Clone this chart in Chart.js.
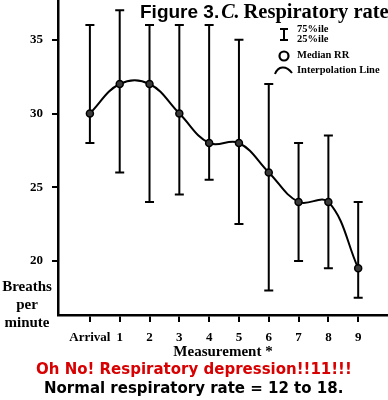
<!DOCTYPE html>
<html>
<head>
<meta charset="utf-8">
<script src="https://cdn.jsdelivr.net/npm/chart.js@4.4.1/dist/chart.umd.min.js"></script>
<style>
    body { margin: 0; background: #fff; }
    #wrap { position: relative; width: 388px; height: 400px; overflow: hidden; }
    #chart { position: absolute; left: 0; top: 0; }
    .txt { position: absolute; white-space: nowrap; color: #000; }
    .serif { font-family: "Liberation Serif", "Times New Roman", serif; font-weight: bold; }
    .sans { font-family: "DejaVu Sans", Verdana, sans-serif; font-weight: bold; }
</style>
</head>
<body>
<div id="wrap">
    <canvas id="chart" width="388" height="400"></canvas>

    <div class="txt" style="left:140px; top:0px; line-height:22px;">
        <span style="font-family:'Liberation Sans', Arial, sans-serif; font-weight:bold; font-size:19px;">Figure 3.</span><span class="serif" style="font-style:italic; font-size:20px; margin-left:2px;">C.</span><span class="serif" style="font-size:20.5px; margin-left:4px;">Respiratory rate</span>
    </div>

    <div class="txt serif" style="left:297px; top:24px; font-size:10.5px; line-height:10.5px;">75%ile</div>
    <div class="txt serif" style="left:297px; top:34px; font-size:10.5px; line-height:10.5px;">25%ile</div>
    <div class="txt serif" style="left:297px; top:50px; font-size:10.5px; line-height:10.5px;">Median RR</div>
    <div class="txt serif" style="left:297px; top:65px; font-size:10.5px; line-height:10.5px;">Interpolation Line</div>

    <div class="txt serif" style="left:-2px; top:277px; width:58px; text-align:center; font-size:15px; line-height:18px;">Breaths<br>per<br>minute</div>

    <div class="txt sans" style="left:36px; top:362px; font-size:15px; line-height:15px; color:#d80000;">Oh No! Respiratory depression!!11!!!</div>
    <div class="txt sans" style="left:44px; top:381px; font-size:15px; line-height:15px;">Normal respiratory rate = 12 to 18.</div>
</div>

<script>
// ===== DATA =====
var labels = ['Arrival', '1', '2', '3', '4', '5', '6', '7', '8', '9'];
var medianRR = [30, 32, 32, 30, 28, 28, 26, 24, 24, 19.5];
var upper75 = [36, 37, 36, 36, 36, 35, 32, 28, 28.5, 24];
var lower25 = [28, 26, 24, 24.5, 25.5, 22.5, 18, 20, 19.5, 17.5];
var yTicks = [20, 25, 30, 35];

// ===== ERROR BARS + LEGEND SYMBOLS =====
var errorBars = {
    id: 'errorBars',
    beforeDatasetsDraw: function(chart) {
        var ctx = chart.ctx;
        var xs = chart.scales.x;
        var ys = chart.scales.y;
        ctx.save();
        ctx.strokeStyle = '#000';
        ctx.lineWidth = 2;
        for (var i = 0; i < labels.length; i++) {
            var x = xs.getPixelForValue(i);
            var top = ys.getPixelForValue(upper75[i]);
            var bot = ys.getPixelForValue(lower25[i]);
            ctx.beginPath();
            ctx.moveTo(x, top);
            ctx.lineTo(x, bot);
            ctx.moveTo(x - 4.5, top);
            ctx.lineTo(x + 4.5, top);
            ctx.moveTo(x - 4.5, bot);
            ctx.lineTo(x + 4.5, bot);
            ctx.stroke();
        }
        ctx.restore();
    },
    afterDraw: function(chart) {
        var ctx = chart.ctx;
        ctx.save();
        ctx.strokeStyle = '#000';
        ctx.lineWidth = 2;
        // error bar symbol
        ctx.beginPath();
        ctx.moveTo(284, 29); ctx.lineTo(284, 40);
        ctx.moveTo(280, 29); ctx.lineTo(288, 29);
        ctx.moveTo(280, 40); ctx.lineTo(288, 40);
        ctx.stroke();
        // median circle
        ctx.lineWidth = 2.2;
        ctx.beginPath();
        ctx.arc(284, 56, 4.5, 0, Math.PI * 2);
        ctx.stroke();
        // interpolation wave
        ctx.lineWidth = 2;
        ctx.beginPath();
        ctx.moveTo(275, 74);
        ctx.bezierCurveTo(278, 66, 286, 65, 292, 73);
        ctx.stroke();
        ctx.restore();
    }
};

var points = [];
for (var i = 0; i < labels.length; i++) {
    points.push({ x: i, y: medianRR[i] });
}

var serifFont = { family: "'Liberation Serif', 'Times New Roman', serif", weight: 'bold', size: 13 };

var ctx = document.getElementById('chart').getContext('2d');
var myChart = new Chart(ctx, {
    type: 'line',
    data: {
        datasets: [{
            data: points,
            borderColor: '#000',
            borderWidth: 2,
            tension: 0.4,
            pointRadius: 3.5,
            pointBorderWidth: 1.5,
            pointBorderColor: '#000',
            pointBackgroundColor: '#3a3a3a',
            fill: false
        }]
    },
    options: {
        responsive: false,
        animation: false,
        devicePixelRatio: 1,
        layout: { autoPadding: false, padding: { top: 0, left: 0, right: 0, bottom: 38 } },
        plugins: {
            legend: { display: false },
            tooltip: { enabled: false }
        },
        scales: {
            x: {
                type: 'linear',
                min: -1.07,
                max: 10,
                afterBuildTicks: function(axis) {
                    axis.ticks = labels.map(function(l, i) { return { value: i }; });
                },
                afterFit: function(scale) {
                    scale.height = 47;
                    scale.paddingLeft = 0;
                    scale.paddingRight = 0;
                },
                ticks: {
                    color: '#000',
                    font: serifFont,
                    padding: 8,
                    maxRotation: 0,
                    autoSkip: false,
                    callback: function(value) { return labels[value]; }
                },
                grid: {
                    drawOnChartArea: false,
                    drawTicks: true,
                    tickLength: 7,
                    color: '#000',
                    lineWidth: 2
                },
                border: { display: true, color: '#000', width: 2.5 },
                title: {
                    display: true,
                    text: 'Measurement *',
                    color: '#000',
                    font: { family: "'Liberation Serif', 'Times New Roman', serif", weight: 'bold', size: 15 },
                    padding: { top: 0, bottom: 1 }
                }
            },
            y: {
                min: 16.33,
                max: 37.7,
                afterBuildTicks: function(axis) {
                    axis.ticks = yTicks.map(function(v) { return { value: v }; });
                },
                afterFit: function(scale) {
                    scale.width = 58;
                    scale.paddingTop = 0;
                    scale.paddingBottom = 0;
                },
                ticks: {
                    color: '#000',
                    font: serifFont,
                    padding: 9
                },
                grid: {
                    drawOnChartArea: false,
                    drawTicks: true,
                    tickLength: 6,
                    color: '#000',
                    lineWidth: 2
                },
                border: { display: true, color: '#000', width: 2.5 }
            }
        }
    },
    plugins: [errorBars]
});
</script>
</body>
</html>
